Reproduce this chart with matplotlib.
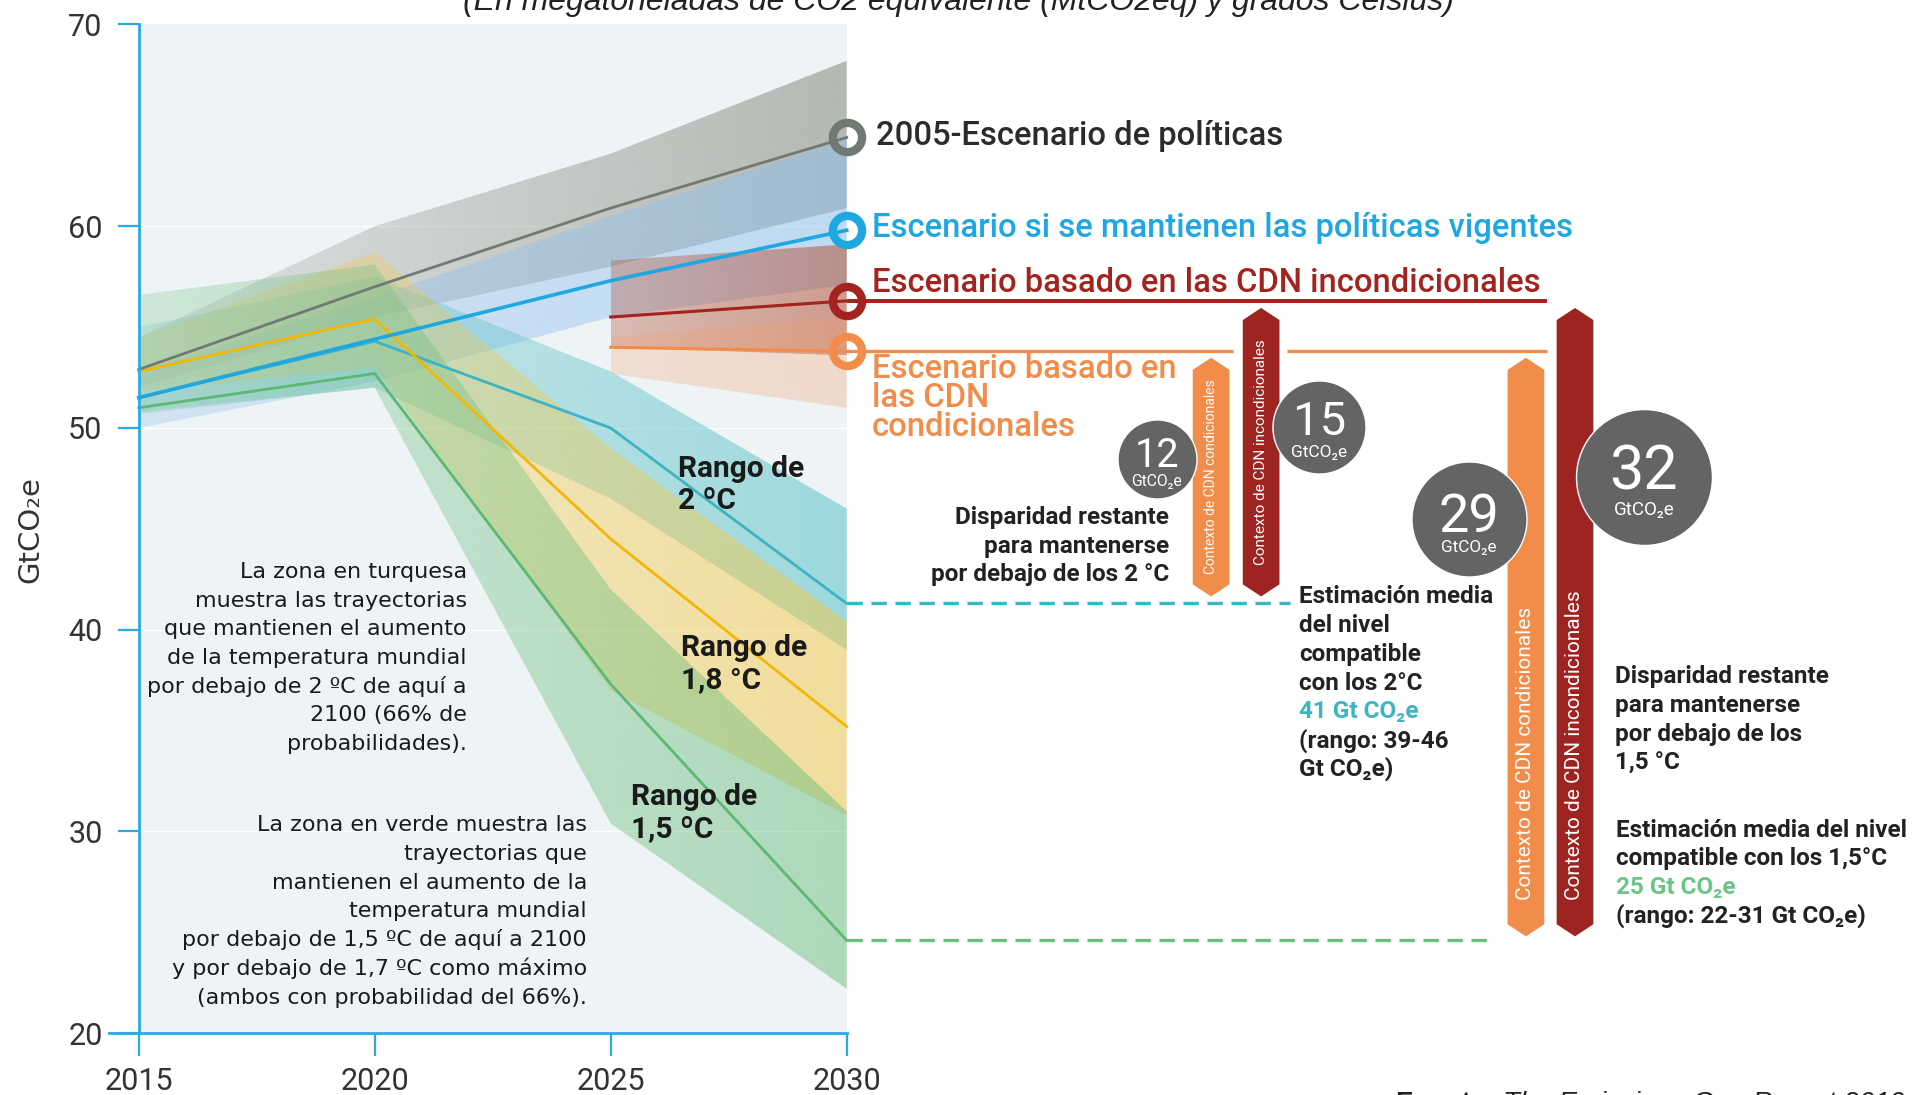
import matplotlib
matplotlib.use("Agg")
import matplotlib.pyplot as plt
import matplotlib.colors as mcolors
from matplotlib.patches import Polygon
import numpy as np

# ----------------------------
# Canvas / layout constants (pixels of the 1924x1095 output)
# ----------------------------
W, H = 1924, 1095
X0_PX, PX_PER_YEAR = 138.7, 47.2      # where 2015 sits, px per year
Y70_PX, PX_PER_UNIT = 24.5, 20.174    # where 70 Gt sits, px per Gt

ROBOTO = ["Roboto", "DejaVu Sans"]
DEJAVU = ["DejaVu Sans"]
ARIAL = ["Liberation Sans", "DejaVu Sans"]

BG_PANEL = "#eef3f5"
AXIS_BLUE = "#29abe2"
TXT = "#222222"
C_GRAY = "#6f7a72"
C_BLUE = "#1ea7e1"
C_RED = "#a3231f"
C_ORANGE = "#f28c4a"
C_TEAL = "#3cb4c4"
C_YELLOW = "#f2b705"
C_GREEN = "#5cb874"
C_CIRCLE = "#646464"

# ----------------------------
# Data (GtCO2e)
# ----------------------------
years = [2015, 2020, 2025, 2030]
ndc_years = [2025, 2030]

policy_2005 = [52.9, 57.0, 60.9, 64.4]
policy_2005_lo = [52.0, 55.5, 58.0, 60.9]
policy_2005_hi = [54.5, 60.0, 63.6, 68.2]

current_policy = [51.5, 54.4, 57.3, 59.8]
current_policy_lo = [50.0, 52.3, 55.5, 57.1]
current_policy_hi = [52.8, 56.5, 60.5, 64.3]

uncond_ndc = [55.5, 56.3]
uncond_ndc_lo = [54.0, 53.6]
uncond_ndc_hi = [58.3, 59.1]

cond_ndc = [54.0, 53.8]
cond_ndc_lo = [52.7, 51.0]
cond_ndc_hi = [54.5, 55.5]

path_2c = [51.5, 54.3, 50.0, 41.3]
path_2c_lo = [50.8, 52.0, 46.5, 39.0]
path_2c_hi = [55.0, 57.5, 52.8, 46.0]

path_18c = [52.8, 55.4, 44.5, 35.2]
path_18c_lo = [51.8, 53.0, 37.0, 30.8]
path_18c_hi = [54.5, 58.7, 49.0, 40.4]

path_15c = [51.0, 52.7, 37.3, 24.6]
path_15c_lo = [50.7, 52.0, 30.4, 22.2]
path_15c_hi = [56.6, 58.1, 42.0, 31.0]

gap_values = ["12", "15", "29", "32"]

# ----------------------------
# Figure / axes mapped 1:1 to the pixel grid
# ----------------------------
fig = plt.figure(figsize=(W / 100, H / 100), dpi=100)
ax = fig.add_axes([0, 0, 1, 1])
XLIM = (2015 - X0_PX / PX_PER_YEAR, 2015 + (W - X0_PX) / PX_PER_YEAR)
YLIM = (70 - (H - Y70_PX) / PX_PER_UNIT, 70 + Y70_PX / PX_PER_UNIT)


def fp(x, y):
    """pixel (from top-left) -> figure fraction"""
    return x / W, 1 - y / H


# plot panel background + faint white grid
ax.fill_between([years[0], years[-1]], 20, 70, color=BG_PANEL, lw=0, zorder=0.5)
ax.hlines([30, 40, 50, 60], years[0], years[-1], color="white", lw=1.0, zorder=0.6)


def gradient_band(xs, lo, hi, color, a0, a1, z):
    poly = ax.fill_between(xs, lo, hi, facecolor="none", edgecolor="none")
    rgba = np.zeros((2, 256, 4))
    rgba[..., :3] = mcolors.to_rgb(color)
    rgba[..., 3] = np.linspace(a0, a1, 256)[None, :]
    im = ax.imshow(rgba, extent=(xs[0], xs[-1], min(lo), max(hi)), aspect="auto",
                   origin="lower", interpolation="bilinear", zorder=z)
    im.set_clip_path(poly.get_paths()[0], transform=ax.transData)


gradient_band(years, policy_2005_lo, policy_2005_hi, "#8f9187", 0.18, 0.6, 1.1)
gradient_band(years, current_policy_lo, current_policy_hi, "#8fc0ee", 0.3, 0.5, 1.2)
gradient_band(ndc_years, uncond_ndc_lo, uncond_ndc_hi, "#b5533a", 0.35, 0.55, 1.3)
gradient_band(ndc_years, cond_ndc_lo, cond_ndc_hi, "#f2a06a", 0.25, 0.3, 1.4)
gradient_band(years, path_2c_lo, path_2c_hi, "#5cc3c9", 0.2, 0.55, 1.5)
gradient_band(years, path_18c_lo, path_18c_hi, "#f5c842", 0.2, 0.5, 1.6)
gradient_band(years, path_15c_lo, path_15c_hi, "#6cbf7f", 0.25, 0.5, 1.7)

# lines
ax.plot(years, path_2c, color=C_TEAL, lw=2.0, zorder=3.0)
ax.plot(years, path_18c, color=C_YELLOW, lw=2.0, zorder=3.1)
ax.plot(years, path_15c, color=C_GREEN, lw=2.0, zorder=3.2)
ax.plot(years, policy_2005, color=C_GRAY, lw=2.0, zorder=3.3)
ax.plot(years, current_policy, color=C_BLUE, lw=2.6, zorder=3.5)
ax.plot(ndc_years, uncond_ndc, color=C_RED, lw=2.2, zorder=3.4)
ax.plot(ndc_years, cond_ndc, color=C_ORANGE, lw=2.2, zorder=3.4)

# leader lines to the right of 2030
LINE_END = 2044.84
ax.plot([years[-1], LINE_END], [uncond_ndc[-1]] * 2, color=C_RED, lw=2.9, zorder=4,
        solid_capstyle="butt")
ax.hlines([cond_ndc[-1]] * 2, [years[-1], 2039.32], [2038.18, LINE_END], color=C_ORANGE, lw=2.4, zorder=4)
ax.plot([years[-1], 2039.39], [path_2c[-1]] * 2, color=C_TEAL, lw=2.4,
        ls=(0, (4.6, 2.6)), zorder=4)
ax.plot([years[-1], 2043.72], [path_15c[-1]] * 2, color="#6dbf7e", lw=2.4,
        ls=(0, (4.6, 2.6)), zorder=4)

# end rings
for val, col in [(policy_2005[-1], C_GRAY), (current_policy[-1], C_BLUE),
                 (uncond_ndc[-1], C_RED), (cond_ndc[-1], C_ORANGE)]:
    ax.plot([years[-1]], [val], marker="o", ms=21, mfc="none", mec=col, mew=6, zorder=6)

# gap arrows
HALF_W, TIP = 0.389, 0.6
arrows = [
    (2037.72, cond_ndc[-1] - 0.32, path_2c[-1] + 0.35, C_ORANGE, "Contexto de CDN condicionales", 10, "mid"),
    (2038.78, uncond_ndc[-1] - 0.35, path_2c[-1] + 0.35, "#9e2421", "Contexto de CDN incondicionales", 11, "mid"),
    (2044.39, cond_ndc[-1] - 0.32, path_15c[-1] + 0.2, C_ORANGE, "Contexto de CDN condicionales", 15, "low"),
    (2045.43, uncond_ndc[-1] - 0.35, path_15c[-1] + 0.2, "#9e2421", "Contexto de CDN incondicionales", 15, "low"),
]
for xc, top, bot, col, label, fs, where in arrows:
    pts = [(xc, top), (xc + HALF_W, top - TIP), (xc + HALF_W, bot + TIP),
           (xc, bot), (xc - HALF_W, bot + TIP), (xc - HALF_W, top - TIP)]
    ax.add_patch(Polygon(pts, closed=True, facecolor=col, edgecolor="none", zorder=5))
    if where == "mid":
        ax.text(xc, (top + bot) / 2, label, rotation=90, ha="center", va="center",
                color="white", fontsize=fs, family=ROBOTO, zorder=5.5)
    else:
        ax.text(xc, bot + 1.8, label, rotation=90, rotation_mode="anchor", ha="left",
                va="center", color="white", fontsize=fs, family=ROBOTO, zorder=5.5)

# gap circles
circles = [  # x, y, diameter(pt), number size, digit offset, unit offset, unit size
    (2036.57, 48.45, 56.9, 28.5, -5.3, -19.2, 11.3),
    (2040.01, 50.06, 67.0, 34, -6.0, -21.6, 12.5),
    (2043.18, 45.47, 82.8, 39, -8.9, -23.3, 12.3),
    (2046.89, 47.59, 97.9, 44, -9.6, -27.6, 13.5),
]
for (cx, cy, d, nfs, doff, uoff, ufs), num in zip(circles, gap_values):
    ax.scatter([cx], [cy], s=d ** 2, color=C_CIRCLE, edgecolors="white", linewidths=1, zorder=7)
    ax.annotate(num, (cx, cy), xytext=(0, doff), textcoords="offset points", ha="center",
                va="baseline", color="white", fontsize=nfs, family=ROBOTO, zorder=8)
    ax.annotate("GtCO₂e", (cx, cy), xytext=(0, uoff), textcoords="offset points", ha="center",
                va="baseline", color="white", fontsize=ufs, family=ROBOTO, zorder=8)

# axes styling
for s in ["top", "right"]:
    ax.spines[s].set_visible(False)
ax.spines["left"].set_position(("data", 2015))
ax.spines["left"].set_bounds(20, 70)
ax.spines["bottom"].set_position(("data", 20))
ax.spines["bottom"].set_bounds(2015 - 30 / PX_PER_YEAR, 2030)
for s in ["left", "bottom"]:
    ax.spines[s].set_color(AXIS_BLUE)
    ax.spines[s].set_linewidth(2.0)
    ax.spines[s].set_zorder(9)
ax.set_xticks(years)
ax.set_yticks(range(20, 71, 10))
ax.tick_params(axis="y", length=15, width=1.6, color=AXIS_BLUE, pad=11, labelsize=22, labelcolor="#333333")
ax.tick_params(axis="x", length=16.5, width=1.6, color=AXIS_BLUE, pad=8, labelsize=22, labelcolor="#333333")
for lbl in ax.get_xticklabels() + ax.get_yticklabels():
    lbl.set_fontfamily(ROBOTO)
ax.set_xlim(*XLIM)
ax.set_ylim(*YLIM)

# ----------------------------
# Text
# ----------------------------
fig.text(*fp(958, 10), "(En megatoneladas de CO2 equivalente (MtCO2eq) y grados Celsius)",
         ha="center", va="baseline", style="italic", family=ARIAL, fontsize=23, color=TXT)
fig.text(*fp(1395, 1091), "Fuente:", ha="left", va="top", weight="bold", family=ARIAL,
         fontsize=20, color=TXT)
fig.text(*fp(1503, 1091), "The Emissions Gap Report 2019", ha="left", va="top", style="italic",
         family=ARIAL, fontsize=20, color=TXT)
fig.text(*fp(30.7, 530), "GtCO₂e", rotation=90, ha="center", va="center", family=DEJAVU,
         fontsize=21, color="#333333")


def text_lines(x, y, lines, step, colors=None, color=TXT, **kw):
    for i, line in enumerate(lines):
        c = colors[i] if colors else color
        fig.text(*fp(x, y + i * step), line, va="baseline", color=c, **kw)


# scenario labels
LBL = dict(family=ROBOTO, fontsize=23.6, weight="medium")
text_lines(876, 145, ["2005-Escenario de políticas"], 0, color="#2b2b2b", **LBL)
text_lines(872, 236.7, ["Escenario si se mantienen las políticas vigentes"], 0, color=C_BLUE, **LBL)
text_lines(872, 291.7, ["Escenario basado en las CDN incondicionales"], 0, color=C_RED, **LBL)
text_lines(872, 378.3, ["Escenario basado en", "las CDN", "condicionales"], 28.8, color=C_ORANGE, **LBL)

# range labels
RNG = dict(family=ROBOTO, fontsize=21.5, weight="bold")
text_lines(678, 476.7, ["Rango de", "2 ºC"], 32, color="#1a1a1a", **RNG)
text_lines(681, 656, ["Rango de", "1,8 °C"], 32, color="#1a1a1a", **RNG)
text_lines(631, 805, ["Rango de", "1,5 ºC"], 32, color="#1a1a1a", **RNG)

# explanatory paragraphs
PAR = dict(family=DEJAVU, fontsize=16, ha="right")
text_lines(467, 578, ["La zona en turquesa", "muestra las trayectorias", "que mantienen el aumento",
                      "de la temperatura mundial", "por debajo de 2 ºC de aquí a", "2100 (66% de",
                      "probabilidades)."], 28.7, color="#1a1a1a", **PAR)
text_lines(587, 831, ["La zona en verde muestra las", "trayectorias que", "mantienen el aumento de la",
                      "temperatura mundial", "por debajo de 1,5 ºC de aquí a 2100",
                      "y por debajo de 1,7 ºC como máximo", "(ambos con probabilidad del 66%)."],
           28.8, color="#1a1a1a", **PAR)

# gap annotations
BLD = dict(family=ROBOTO, fontsize=17.5, weight="bold")
text_lines(1169, 524, ["Disparidad restante", "para mantenerse", "por debajo de los 2 °C"], 28.7,
           ha="right", **BLD)
text_lines(1299, 603.3, ["Estimación media", "del nivel", "compatible", "con los 2°C", "41 Gt CO₂e",
                         "(rango: 39-46", "Gt CO₂e)"], 28.8,
           colors=[TXT, TXT, TXT, TXT, C_TEAL, TXT, TXT], ha="left", **BLD)
text_lines(1615, 683, ["Disparidad restante", "para mantenerse", "por debajo de los", "1,5 °C"], 28.8,
           ha="left", **BLD)
text_lines(1616, 837, ["Estimación media del nivel", "compatible con los 1,5°C", "25 Gt CO₂e",
                       "(rango: 22-31 Gt CO₂e)"], 28.4,
           colors=[TXT, TXT, "#6cc486", TXT], ha="left", **BLD)

fig.savefig("out.png", dpi=100)
